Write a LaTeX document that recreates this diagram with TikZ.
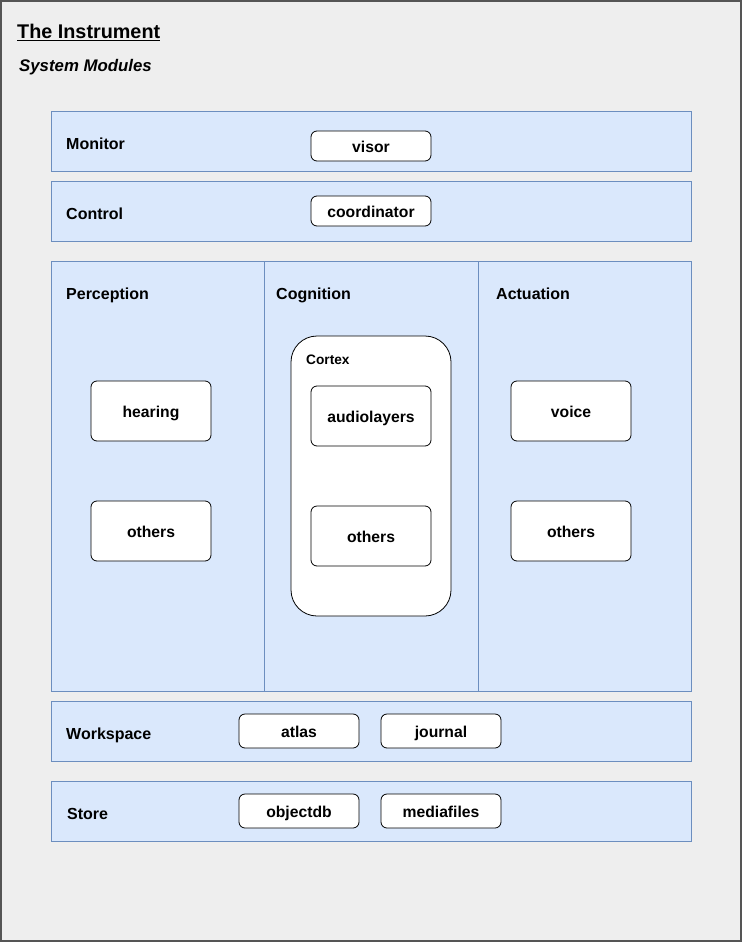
\documentclass[tikz,border=0pt]{standalone}
\usepackage{fontspec}
\setmainfont{Liberation Sans}
\usetikzlibrary{positioning}
\definecolor{bgc}{HTML}{EEEEEE}
\definecolor{bgframe}{HTML}{555555}
\definecolor{bandfill}{HTML}{DAE8FC}
\definecolor{bandline}{HTML}{6C8EBF}
\tikzset{
  band/.style={draw=bandline, fill=bandfill, line width=0.8pt},
  modbox/.style={draw=black, fill=white, rounded corners=6pt, line width=0.8pt, font=\fontsize{15.7}{18}\selectfont\bfseries, inner sep=0pt, text height=14pt, text depth=2pt},
  bandlabel/.style={anchor=base west, inner sep=0pt, font=\fontsize{16}{18}\selectfont\bfseries},
}
\begin{document}
\begin{tikzpicture}[x=1pt,y=-1pt]
\useasboundingbox (0,0) rectangle (742,942);
% outer frame
\draw[draw=bgframe, fill=bgc, line width=1.5pt] (1,1) rectangle (741,941);
\node[anchor=base west, inner sep=0pt, font=\fontsize{19.8}{22}\selectfont\bfseries] (title) at (17,39) {\underline{The Instrument}};
\node[anchor=base west, inner sep=0pt, font=\fontsize{16.8}{18}\selectfont\bfseries\itshape] (subtitle) at (19,71) {System Modules};

% bands
\draw[band] (51,111) rectangle (691,171);
\node[bandlabel] (monitor) at (66,149) {Monitor};
\draw[band] (51,181) rectangle (691,241);
\node[bandlabel] (control) at (66,219) {Control};
\draw[band] (51,261) rectangle (691,691);
\draw[draw=bandline, line width=0.8pt] (264,261) -- (264,691);
\draw[draw=bandline, line width=0.8pt] (478,261) -- (478,691);
\node[bandlabel] (perception) at (66,299) {Perception};
\node[bandlabel] (cognition) at (276,299) {Cognition};
\node[bandlabel] (actuation) at (496,299) {Actuation};
\draw[band] (51,701) rectangle (691,761);
\node[bandlabel] (workspace) at (66,739) {Workspace};
\draw[band] (51,781) rectangle (691,841);
\node[bandlabel] (store) at (67,819) {Store};

% modules
\node[modbox, minimum width=120pt, minimum height=30pt] (visor) at (371,146) {visor};
\node[modbox, minimum width=120pt, minimum height=30pt] (coordinator) at (371,211) {coordinator};

\node[modbox, minimum width=120pt, minimum height=60pt] (hearing) at (151,411) {hearing};
\node[modbox, minimum width=120pt, minimum height=60pt] (pothers) at (151,531) {others};

\node[draw=black, fill=white, rounded corners=26pt, line width=0.8pt, minimum width=160pt, minimum height=280pt, inner sep=0pt] (cortex) at (371,476) {};
\node[anchor=base west, inner sep=0pt, font=\fontsize{13.7}{15}\selectfont\bfseries] (cortexlabel) at (306,364) {Cortex};
\node[modbox, minimum width=120pt, minimum height=60pt] (audiolayers) at (371,416) {audiolayers};
\node[modbox, minimum width=120pt, minimum height=60pt] (cothers) at (371,536) {others};

\node[modbox, minimum width=120pt, minimum height=60pt] (voice) at (571,411) {voice};
\node[modbox, minimum width=120pt, minimum height=60pt] (aothers) at (571,531) {others};

\node[modbox, minimum width=120pt, minimum height=34pt] (atlas) at (299,731) {atlas};
\node[modbox, minimum width=120pt, minimum height=34pt] (journal) at (441,731) {journal};
\node[modbox, minimum width=120pt, minimum height=34pt] (objectdb) at (299,811) {objectdb};
\node[modbox, minimum width=120pt, minimum height=34pt] (mediafiles) at (441,811) {mediafiles};
\end{tikzpicture}
\end{document}
